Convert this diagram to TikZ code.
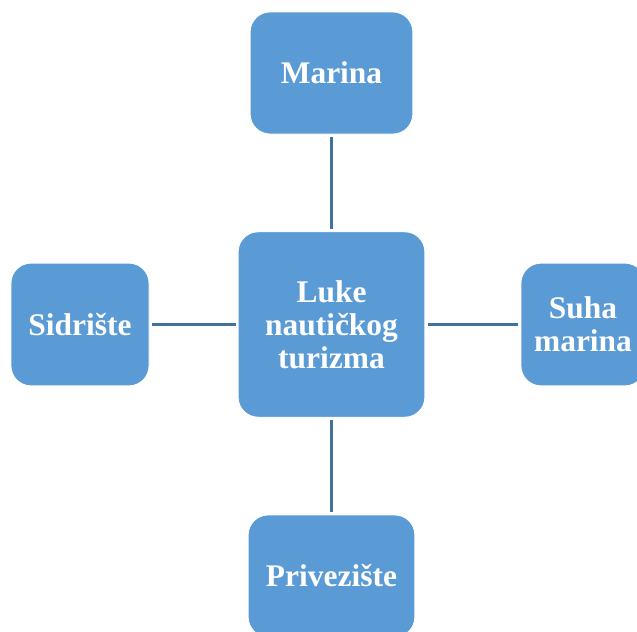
\documentclass[tikz,border=0pt]{standalone}
\usepackage{fontspec}
\setmainfont{Liberation Serif}
\usetikzlibrary{positioning}
\definecolor{boxblue}{HTML}{5B9BD5}
\definecolor{linkblue}{HTML}{41719C}
\tikzset{lbox/.style = {draw = white, line width = 0.6pt, fill = boxblue, rounded corners = 15pt,
    text = white, align = center, inner sep = 0, outer sep = 0,
    font = \fontsize{23.6}{24.8}\selectfont\bfseries},
  link/.style = {draw = linkblue, line width = 2pt, shorten > = 2pt, shorten < = 2pt}}

\begin{document}
\begin{tikzpicture}[x = 0.75pt, y = -0.75pt]
      \useasboundingbox (0, 0) rectangle (637, 632);

      \node [lbox, minimum width = 122pt, minimum height = 91.5pt] (marina) at (331.5, 73) {Marina};
      \node [lbox, minimum width = 140pt, minimum height = 139pt] (luke) at (331.5, 324.5) {Luke\\nautičkog\\turizma};
      \node [lbox, minimum width = 103.5pt, minimum height = 92pt] (sidriste) at (80, 324.5) {Sidrište};
      \node [lbox, minimum width = 93pt, minimum height = 92pt] (suha) at (583, 324.5) {Suha\\marina};
      \node [lbox, minimum width = 125pt, minimum height = 91.5pt] (priveziste) at (331.5, 576) {Privezište};

      \draw [link] (marina) -- (luke);
      \draw [link] (luke) -- (priveziste);
      \draw [link] (sidriste) -- (luke);
      \draw [link] (luke) -- (suha);
    \end{tikzpicture}
\end{document}
